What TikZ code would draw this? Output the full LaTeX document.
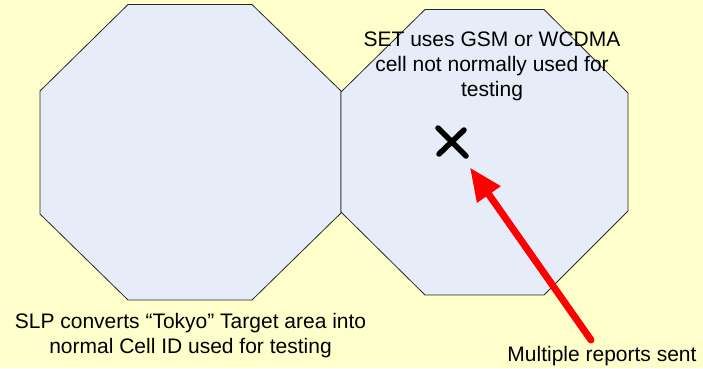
\documentclass[tikz,border=0pt]{standalone}
\usepackage{fontspec}
\setmainfont{Liberation Sans}
\usetikzlibrary{arrows.meta}
\definecolor{pagebg}{RGB}{255,255,204}
\definecolor{cellfill}{RGB}{230,236,248}
\definecolor{celledge}{RGB}{40,40,40}
\begin{document}
\begin{tikzpicture}[x=1pt,y=-1pt,
    cell/.style={fill=cellfill,draw=celledge,line width=0.8pt},
    note/.style={font=\fontsize{21}{25}\selectfont,align=center,inner sep=0pt},
    report/.style={draw=red,line width=7pt,line cap=round,-{Triangle[length=33pt,width=27pt]}}]
  \fill[pagebg] (0,0) rectangle (703,368);
  \useasboundingbox (0,0) rectangle (703,368);
  % the two cells
  \draw[cell] (128,4.5) -- (252,4.5) -- (341,91) -- (341,213)
    -- (252,300) -- (128,300) -- (40,214) -- (40,91) -- cycle;
  \draw[cell] (425,9.5) -- (544,9.5) -- (628,93) -- (628,211)
    -- (544,295) -- (425,295) -- (341,212) -- (341,92) -- cycle;
  % texts (base = last line)
  \draw
    (492,96.7) node[note,anchor=base] (settext){SET uses GSM or WCDMA\\cell not normally used for\\testing}
    (190.5,353) node[note,anchor=base] (slptext){SLP converts “Tokyo” Target area into\\normal Cell ID used for testing}
    (602,361.7) node[note,anchor=base] (reports){Multiple reports sent};
  % position of the SET
  \node (setpos) [circle,minimum size=62pt,inner sep=0pt] at (452,142) {};
  \begin{scope}[line width=5.5pt,line cap=round]
    \draw (setpos.center) +(-14,-14) -- +(14,14);
    \draw (setpos.center) +(12,-12) -- +(-13,12);
  \end{scope}
  \coordinate (tail) at (591,340);
  \draw[report] (tail) to (setpos);
\end{tikzpicture}
\end{document}
